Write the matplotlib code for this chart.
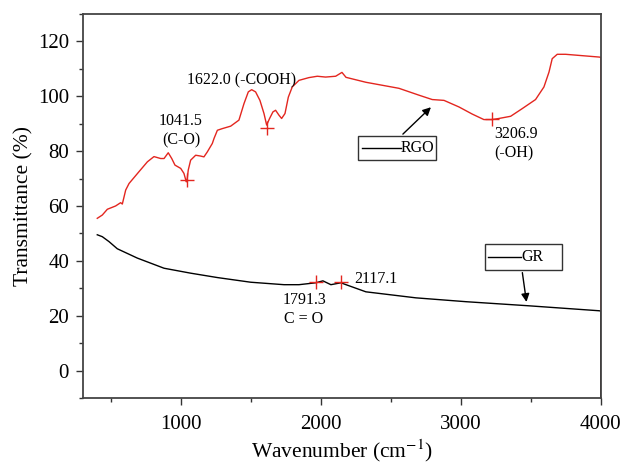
import matplotlib
matplotlib.use("Agg")
import matplotlib.pyplot as plt
from matplotlib.patches import Rectangle

plt.rcParams['font.family'] = ['Liberation Serif', 'DejaVu Serif']
plt.rcParams['mathtext.fontset'] = 'stix'

# RGO spectrum
rgo_x = [402, 438, 474, 533, 569, 581, 605, 629, 700, 760, 807, 855, 879, 909, 934,
         957, 998, 1021, 1038, 1043, 1052, 1069, 1105, 1140, 1164, 1188, 1224, 1236,
         1260, 1295, 1355, 1414, 1450, 1481, 1505, 1533, 1564, 1593, 1612, 1633,
         1657, 1676, 1700, 1719, 1743, 1767, 1795, 1843, 1914, 1974, 2033, 2105,
         2150, 2179, 2321, 2557, 2700, 2795, 2879, 2986, 3081, 3164, 3221, 3271,
         3355, 3438, 3533, 3593, 3629, 3652, 3688, 3748, 3986, 4000, 4000]
rgo_y = [55.5, 56.7, 58.8, 60.0, 61.2, 60.7, 65.8, 68.2, 72.5, 76.1, 78.0, 77.3, 77.3, 79.4, 77.3,
         74.9, 73.7, 71.9, 68.8, 69.3, 73.1, 76.7, 78.5, 78.2, 77.9, 79.7, 82.8, 84.6,
         87.6, 88.2, 89.1, 91.3, 97.3, 101.6, 102.4, 101.6, 98.5, 93.7, 89.5, 91.9,
         94.3, 94.9, 93.1, 91.9, 93.7, 99.7, 103.4, 105.8, 106.8, 107.3, 107.0, 107.3,
         108.7, 106.9, 105.1, 102.9, 100.4, 98.8, 98.5, 96.1, 93.5, 91.5, 91.5, 91.9,
         92.7, 95.5, 98.8, 103.4, 108.8, 113.7, 115.3, 115.3, 114.3, 114.2, -10]

# GR spectrum
gr_x = [402, 438, 486, 545, 688, 879, 1069, 1260, 1498, 1736, 1843, 1964, 2014,
        2071, 2143, 2179, 2321, 2679, 3036, 3486, 3986, 4000, 4000]
gr_y = [49.5, 48.8, 47.0, 44.4, 41.0, 37.3, 35.5, 33.9, 32.2, 31.3, 31.3, 32.0, 32.7,
        31.3, 32.0, 31.3, 28.7, 26.5, 25.1, 23.6, 21.8, 21.7, -10]

# peak markers
rgo_peak_x = [1043, 1614, 3221]
rgo_peak_y = [69.5, 88.6, 91.6]
gr_peak_x = [1964, 2143]
gr_peak_y = [32.3, 32.3]

red = '#e3261f'

fig, ax = plt.subplots(figsize=(6.24, 4.66), dpi=100)
fig.subplots_adjust(left=0.133, right=0.963, top=0.970, bottom=0.146)

ax.plot(rgo_x, rgo_y, color=red, lw=1.0)
ax.plot(gr_x, gr_y, color='black', lw=1.0)
ax.plot(rgo_peak_x, rgo_peak_y, '+', color=red, ms=10, mew=1.0)
ax.plot(gr_peak_x, gr_peak_y, '+', color=red, ms=10, mew=1.0)

fs = 11.5
ax.text(1000, 81, '1041.5\n(C-O)', ha='center', va='bottom', fontsize=fs, linespacing=1.25)
ax.text(1436, 105.8, '1622.0 (-COOH)', ha='center', va='center', fontsize=fs)
ax.text(3236, 89, '3206.9\n(-OH)', ha='left', va='top', fontsize=fs, linespacing=1.25)
ax.text(1879, 28.6, '1791.3\nC = O', ha='center', va='top', fontsize=fs, linespacing=1.25)
ax.text(2236, 33.5, '2117.1', ha='left', va='center', fontsize=fs)

# label boxes with arrows
ax.add_patch(Rectangle((2264, 76.7), 557, 8.8, fill=False, ec='#333333', lw=1.0))
ax.plot([2290, 2571], [81.1, 81.1], color='black', lw=1.0)
ax.text(2571, 81.1, 'RGO', ha='left', va='center', fontsize=fs)
ax.annotate('', xy=(2800, 96.7), xytext=(2571, 85.5),
            arrowprops=dict(arrowstyle='-|>', color='black', lw=1.0, mutation_scale=12))

ax.add_patch(Rectangle((3171, 36.7), 550, 9.5, fill=False, ec='#333333', lw=1.0))
ax.plot([3195, 3430], [41.45, 41.45], color='black', lw=1.0)
ax.text(3430, 41.45, 'GR', ha='left', va='center', fontsize=fs)
ax.annotate('', xy=(3471, 24.0), xytext=(3436, 36.7),
            arrowprops=dict(arrowstyle='-|>', color='black', lw=1.0, mutation_scale=12))

ax.set_xlim(300, 4000)
ax.set_ylim(-10, 130)
ax.set_xticks([1000, 2000, 3000, 4000])
ax.set_xticks([500, 1500, 2500, 3500], minor=True)
ax.set_yticks([0, 20, 40, 60, 80, 100, 120])
ax.set_yticks(range(-10, 131, 10), minor=True)
ax.tick_params(axis='both', which='major', labelsize=15, length=5, width=1.0,
               direction='out', color='#333333', pad=5)
ax.tick_params(axis='x', which='major', pad=7)
ax.tick_params(axis='both', which='minor', length=3, width=1.0, direction='out',
               color='#333333')
for s in ax.spines.values():
    s.set_color('#444444')
    s.set_linewidth(1.3)

ax.set_xlabel('Wavenumber (cm$^{-1}$)', fontsize=15.5, labelpad=3)
ax.set_ylabel('Transmittance (%)', fontsize=15.5, labelpad=3)

fig.savefig('out.png', dpi=100)
